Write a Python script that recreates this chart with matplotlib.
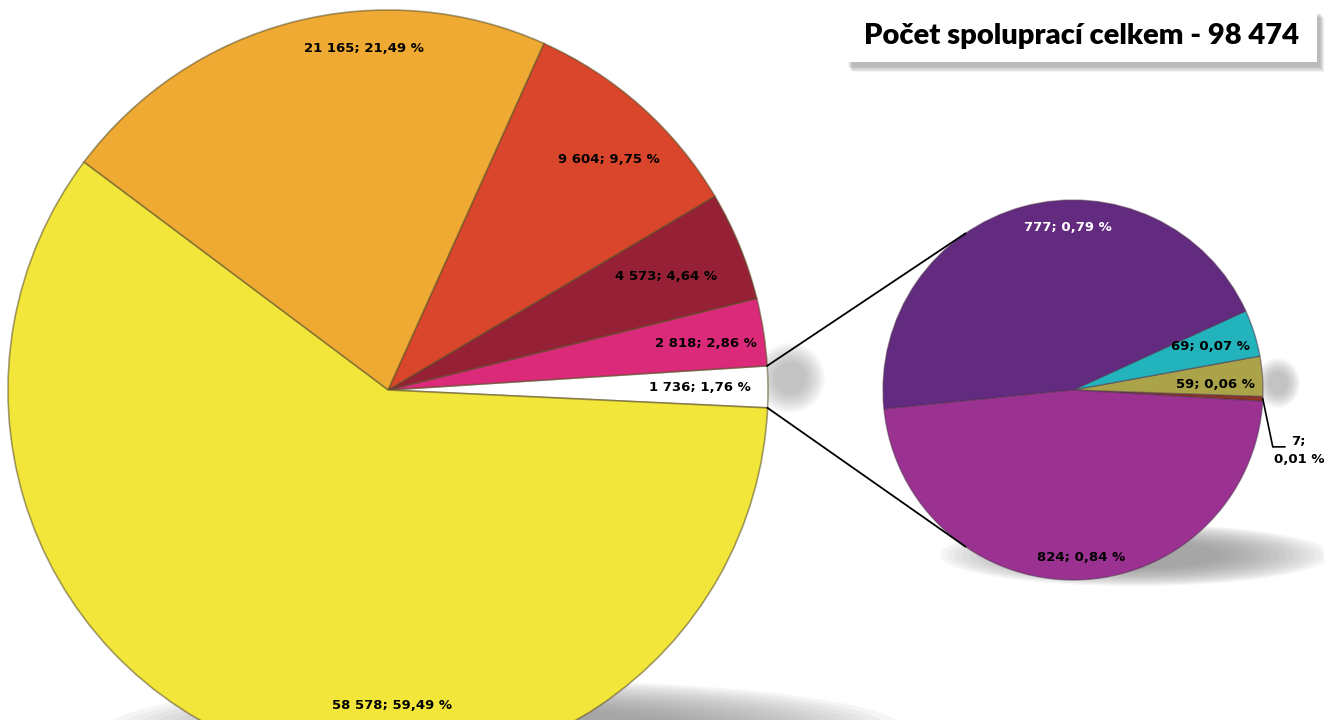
import numpy as np
import matplotlib
matplotlib.use("Agg")
import matplotlib.pyplot as plt
from matplotlib.patches import Ellipse, Rectangle

# ---------------- data ----------------
title = "Počet spoluprací celkem - 98 474"

main_values = [1736, 2818, 4573, 9604, 21165, 58578]
main_labels = ["1 736; 1,76 %", "2 818; 2,86 %", "4 573; 4,64 %",
               "9 604; 9,75 %", "21 165; 21,49 %", "58 578; 59,49 %"]
main_colors = ["#ffffff", "#dc2a7a", "#962136", "#d9462b", "#eeaa32", "#f3e63a"]

sub_values = [7, 59, 69, 777, 824]
sub_labels = ["7;\n0,01 %", "59; 0,06 %", "69; 0,07 %", "777; 0,79 %", "824; 0,84 %"]
sub_colors = ["#8e3424", "#aaa34a", "#22b3bd", "#632b80", "#9b3191"]

W, H = 1324, 720
fig = plt.figure(figsize=(W / 100, H / 100), dpi=100)
ax = fig.add_axes([0, 0, 1, 1])

def P(x, y):
    return x, H - y

# ---------------- shadows ----------------
def soft_shadow(cx, cy, w, h, color="#8c8c8c", steps=16, alpha=0.08, z=0):
    for i in range(steps):
        f = 1.0 - i / steps * 0.6
        ax.add_patch(Ellipse(P(cx, cy), w * f, h * f, facecolor=color,
                             edgecolor="none", alpha=alpha, zorder=z))

soft_shadow(505, 730, 800, 100)
soft_shadow(1135, 555, 390, 62)
soft_shadow(790, 378, 70, 70, alpha=0.04)
soft_shadow(1278, 383, 44, 50, alpha=0.04)

# ---------------- main pie ----------------
main_c = P(388, 390)
main_r = 380
edge = dict(edgecolor=(0.35, 0.3, 0.15, 0.55), linewidth=1.2)
w_main, _ = ax.pie(main_values, colors=main_colors, startangle=-2.7,
                   counterclock=True, radius=main_r, center=main_c,
                   wedgeprops=edge)
for w in w_main:
    w.set_zorder(2)

main_ldist = [0.82, 0.845, 0.79, 0.84, 0.90, 0.83]
main_angle_adj = [0, -0.5, 0, -2, -10.5, 20.5]
for w, lab, d, da in zip(w_main, main_labels, main_ldist, main_angle_adj):
    ang = np.deg2rad((w.theta1 + w.theta2) / 2 + da)
    x = main_c[0] + d * main_r * np.cos(ang)
    y = main_c[1] + d * main_r * np.sin(ang)
    ax.text(x, y, lab, ha="center", va="center", fontsize=9.5,
            fontweight="bold", color="black", zorder=5)

# ---------------- secondary pie ----------------
sub_c = P(1073, 390)
sub_r = 190
w_sub, _ = ax.pie(sub_values, colors=sub_colors, startangle=-3.4,
                  counterclock=True, radius=sub_r, center=sub_c,
                  wedgeprops=dict(edgecolor=(0.3, 0.2, 0.3, 0.5), linewidth=1.0))
for w in w_sub:
    w.set_zorder(2)

sub_ldist = [None, 0.75, 0.76, 0.855, 0.88]
sub_angle_adj = [0, -2, 0, -13.5, 1.5]
sub_lcolor = ["black", "black", "black", "white", "black"]
for w, lab, d, da, c in zip(w_sub, sub_labels, sub_ldist, sub_angle_adj, sub_lcolor):
    if d is None:
        continue
    ang = np.deg2rad((w.theta1 + w.theta2) / 2 + da)
    x = sub_c[0] + d * sub_r * np.cos(ang)
    y = sub_c[1] + d * sub_r * np.sin(ang)
    ax.text(x, y, lab, ha="center", va="center", fontsize=9.5,
            fontweight="bold", color=c, zorder=5)

# leader for the tiny slice
w7 = w_sub[0]
a7 = np.deg2rad((w7.theta1 + w7.theta2) / 2)
sx = sub_c[0] + sub_r * np.cos(a7)
sy = sub_c[1] + sub_r * np.sin(a7)
kx, ky = sx + 10, sy - 48
ax.plot([sx, kx, kx + 12], [sy, ky, ky], color="black", lw=1.2, zorder=5,
        solid_joinstyle="miter")
ax.text(kx + 26, ky - 4, sub_labels[0], ha="center", va="center",
        fontsize=9.5, fontweight="bold", linespacing=1.5, zorder=5)

# ---------------- connector lines ----------------
wo = w_main[0]
conn_ang = 124.5
for th_main, sgn in [(wo.theta2, 1), (wo.theta1, -1)]:
    a = np.deg2rad(th_main)
    x0 = main_c[0] + main_r * np.cos(a)
    y0 = main_c[1] + main_r * np.sin(a)
    b = np.deg2rad(sgn * conn_ang)
    x1 = sub_c[0] + sub_r * np.cos(b)
    y1 = sub_c[1] + sub_r * np.sin(b)
    ax.plot([x0, x1], [y0, y1], color="black", lw=1.3, zorder=3)

# ---------------- title box ----------------
for i in range(8):
    ax.add_patch(Rectangle(P(848 + i * 0.6, 67 + i * 0.7), 472, 54,
                           facecolor="#555555", edgecolor="none",
                           alpha=0.06, zorder=6))
ax.add_patch(Rectangle(P(845, 62), 472, 54, facecolor="white",
                       edgecolor="none", zorder=7))
ax.text(*P(1081, 36), title, ha="center", va="center", fontsize=21,
        family=["Lato", "DejaVu Sans"], fontweight="heavy", color="black",
        zorder=8)

ax.set_xlim(0, W)
ax.set_ylim(0, H)
ax.set_aspect("equal", adjustable="box")
ax.axis("off")
fig.savefig("out.png", dpi=100)
